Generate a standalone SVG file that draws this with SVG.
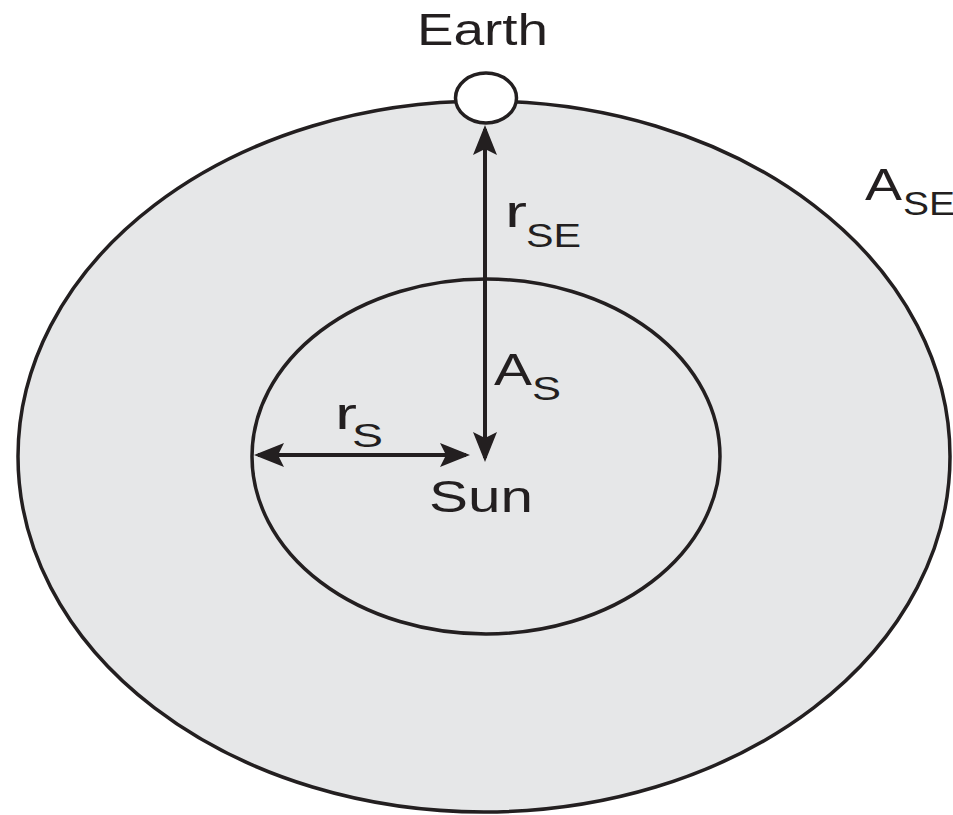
<svg xmlns="http://www.w3.org/2000/svg" width="953" height="815" viewBox="0 0 953 815">
<defs>
<style>
.orb{fill:#e6e7e8;stroke:#231f20;stroke-width:3.5}
.lbl{font-family:"Liberation Sans",Arial,sans-serif;font-size:45px;fill:#231f20}
.sub{font-family:"Liberation Sans",Arial,sans-serif;font-size:34px;fill:#231f20}
.arr{stroke:#231f20;stroke-width:4;fill:none;marker-start:url(#ah);marker-end:url(#ah)}
</style>
<marker id="ah" markerUnits="userSpaceOnUse" viewBox="-30 -12 30 24" markerWidth="30" markerHeight="24" refX="-4" refY="0" orient="auto-start-reverse" overflow="visible">
<path d="M0,0 L-30,-12 L-24,0 L-30,12 Z" fill="#231f20"/>
</marker>
</defs>
<rect width="953" height="815" fill="#ffffff"/>
<g id="outer-orbit">
<ellipse class="orb" cx="484" cy="456.5" rx="466" ry="355.5"/>
<text class="lbl" x="865" y="200" textLength="37" lengthAdjust="spacingAndGlyphs">A</text>
<text class="sub" x="903" y="215" textLength="52" lengthAdjust="spacingAndGlyphs">SE</text>
</g>
<g id="sun-disk">
<ellipse class="orb" cx="486" cy="456.5" rx="234" ry="177.5"/>
<text class="lbl" x="494" y="385" textLength="38" lengthAdjust="spacingAndGlyphs">A</text>
<text class="sub" x="532" y="400" textLength="29" lengthAdjust="spacingAndGlyphs">S</text>
</g>
<g id="earth">
<ellipse cx="486" cy="98" rx="30.5" ry="25" fill="#ffffff" stroke="#231f20" stroke-width="3.5"/>
<text class="lbl" x="417" y="45" textLength="131" lengthAdjust="spacingAndGlyphs">Earth</text>
</g>
<g id="sun">
<text class="lbl" x="429" y="512" textLength="104" lengthAdjust="spacingAndGlyphs">Sun</text>
</g>
<g id="connectors">
<line class="arr" x1="485" y1="129" x2="485" y2="458"/>
<line class="arr" x1="258" y1="455" x2="466" y2="455"/>
<text class="lbl" x="505" y="227" textLength="22" lengthAdjust="spacingAndGlyphs">r</text>
<text class="sub" x="526" y="247" textLength="55" lengthAdjust="spacingAndGlyphs">SE</text>
<text class="lbl" x="335" y="429" textLength="22" lengthAdjust="spacingAndGlyphs">r</text>
<text class="sub" x="352" y="447" textLength="31" lengthAdjust="spacingAndGlyphs">S</text>
</g>
</svg>
